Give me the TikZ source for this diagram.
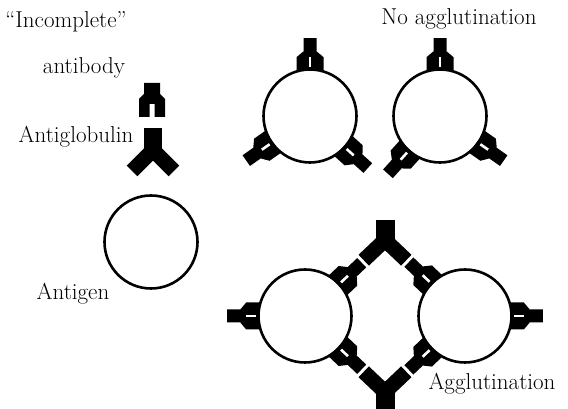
\documentclass[tikz,border=0pt]{standalone}
\usetikzlibrary{calc}
\tikzset{
  cell/.style={circle, draw=black, fill=white, line width=2.6pt, minimum size=93pt, inner sep=0pt},
  lbl/.style={font=\fontsize{23}{27}\selectfont, inner sep=0pt, anchor=base},
  ab/.pic={
    \fill[black] (-13.5,-2.5) -- (13.5,-2.5) -- (13.5,11) -- (7,16.5) -- (6.5,16.5) -- (6.5,30)
      -- (-6.5,30) -- (-6.5,16.5) -- (-7,16.5) -- (-13.5,11) -- cycle;
    \fill[white] (-1.3,1.5) rectangle (1.3,11);
  },
  abfree/.pic={
    \fill[black] (-13,0) -- (-2.5,0) -- (-2.5,13) -- (2.5,13) -- (2.5,0) -- (13,0) -- (13,18)
      -- (8,23) -- (8,34) -- (-8,34) -- (-8,23) -- (-13,18) -- cycle;
  },
  arm/.style={line width=15pt, line join=miter, line cap=butt},
}
\begin{document}
\begin{tikzpicture}[x=1pt,y=1pt]
\useasboundingbox (0,0) rectangle (568,409);

% labels
\node[lbl] (tinc) at (66,381) {``Incomplete''};
\node[lbl] (tab) at (84,335) {antibody};
\node[lbl] (tag) at (76,266) {Antiglobulin};
\node[lbl] (tan) at (73,109) {Antigen};
\node[lbl] (tno) at (459,384) {No agglutination};
\node[lbl] (tagg) at (492,19) {Agglutination};

% free incomplete antibody
\coordinate (fa) at (152,292);
\pic at (fa) {abfree};

% free antiglobulin
\coordinate (J0) at (153,259);
\draw[arm] ($(J0)+(-21,-21)$) -- (J0) -- ($(J0)+(21,-21)$);
\fill[black] ($(J0)+(-9,0)$) rectangle ($(J0)+(9,22)$);

% antigen
\node[cell] (a0) at (151,167) {};

% no agglutination
\node[cell] (c1) at (310,293) {};
\node[cell] (c2) at (440,293) {};
\pic at (c1.90) {ab};
\pic[rotate=125] at (c1.215) {ab};
\pic[rotate=228] at (c1.318) {ab};
\pic at (c2.90) {ab};
\pic[rotate=138] at (c2.228) {ab};
\pic[rotate=235] at (c2.325) {ab};

% agglutination
\node[cell] (c3) at (305,93) {};
\node[cell] (c4) at (465,93) {};
\coordinate (J1) at (385,169);
\coordinate (J2) at (385,17);
\pic[rotate=90] at (c3.180) {ab};
\pic[rotate=-90] at (c4.0) {ab};
\pic[rotate=-46.5] at (c3.43.5) {ab};
\pic[rotate=46.5] at (c4.136.5) {ab};
\pic[rotate=-133.5] at (c3.-43.5) {ab};
\pic[rotate=133.5] at (c4.-136.5) {ab};

\draw[arm] ($(c3.center)!81pt!(J1)$) -- (J1) -- ($(c4.center)!81pt!(J1)$);
\fill[black] ($(J1)+(-9.5,0)$) rectangle ($(J1)+(9.5,20)$);
\draw[arm] ($(c3.center)!81pt!(J2)$) -- (J2) -- ($(c4.center)!81pt!(J2)$);
\fill[black] ($(J2)+(-9.5,0)$) rectangle ($(J2)+(9.5,-17)$);
\end{tikzpicture}
\end{document}
